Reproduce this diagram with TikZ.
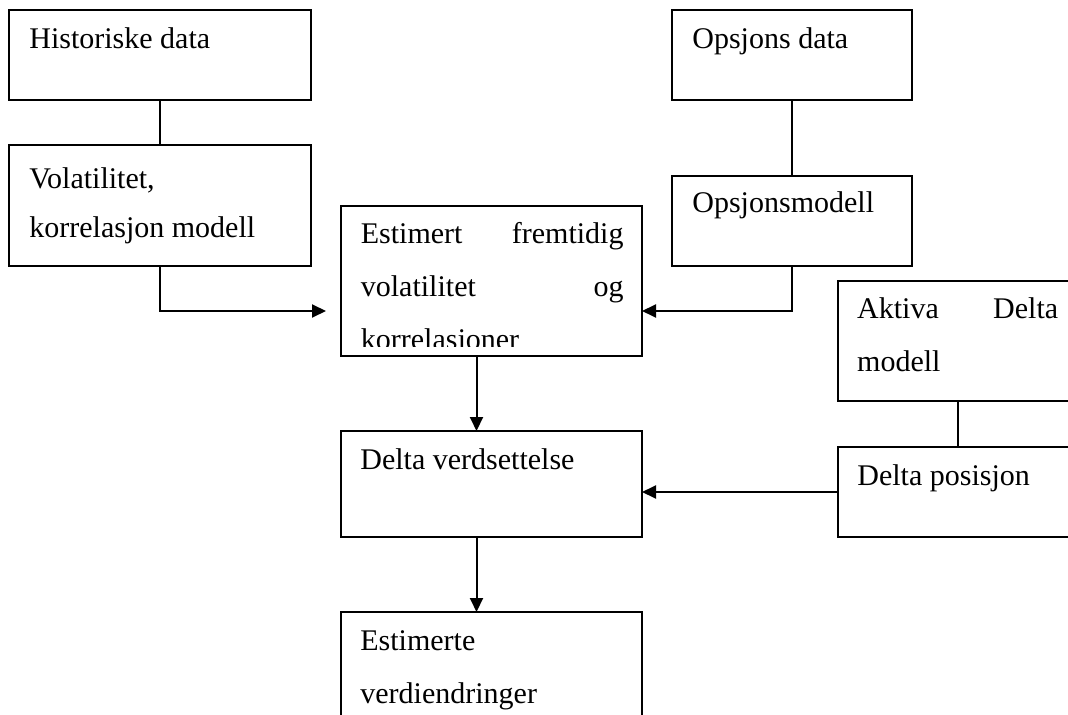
\documentclass[tikz,border=0pt]{standalone}
\usepackage{fontspec}
\setmainfont{Liberation Serif}
\usetikzlibrary{arrows.meta,positioning}

\tikzset{
  blokk/.style={draw, line width=1pt, anchor=north west, inner sep=0pt, outer sep=0pt},
  tekst/.style={anchor=base west, inner sep=0pt, font=\fontsize{15}{26.5}\selectfont},
  lin/.style={line width=1pt},
  pil/.style={line width=1pt, -{Triangle[length=7pt,width=6.5pt]}}
}

\begin{document}
\begin{tikzpicture}[x=0.5pt, y=-0.5pt]
  \useasboundingbox (0,0) rectangle (1068,715);
  \clip (0,0) rectangle (1068,715);
  \node[blokk, minimum width=151pt, minimum height=45pt] (hist) at (9,10) {};
  \node[blokk, minimum width=151pt, minimum height=60.5pt, below=22.5pt of hist] (vol) {};
  \node[blokk, minimum width=150.5pt, minimum height=75pt] (est) at (341,206) {};
  \node[blokk, minimum width=150.5pt, minimum height=53pt, below=37.5pt of est] (dver) {};
  \node[blokk, minimum width=150.5pt, minimum height=75pt, below=37.5pt of dver] (estv) {};
  \node[blokk, minimum width=120pt, minimum height=45pt] (opsd) at (672,10) {};
  \node[blokk, minimum width=120pt, minimum height=45pt, below=38pt of opsd] (opsm) {};
  \node[blokk, minimum width=120pt, minimum height=60pt] (akt) at (838,281) {};
  \node[blokk, minimum width=120pt, minimum height=45pt, below=23pt of akt] (dpos) {};

  \node[tekst] (histT) at ([xshift=10pt,yshift=-19.5pt]hist.north west) {Historiske data};
  \node[tekst] (volT) at ([xshift=10pt,yshift=-21.75pt]vol.north west)
    {\parbox[t]{140pt}{\fontsize{15}{24.5}\selectfont Volatilitet,\\ korrelasjon modell}};
  \begin{scope}
    \clip (est.north west) rectangle ([yshift=4.5pt]est.south east);
    \node[tekst] (estT) at ([xshift=9.75pt,yshift=-18.65pt]est.north west)
      {\parbox[t]{131.3pt}{Estimert\hfill fremtidig\\ volatilitet\hfill og\\ korrelasjoner}};
  \end{scope}
  \node[tekst] (opsdT) at ([xshift=10pt,yshift=-19.5pt]opsd.north west) {Opsjons data};
  \node[tekst] (opsmT) at ([xshift=10pt,yshift=-18.5pt]opsm.north west) {Opsjonsmodell};
  \node[tekst] (aktT) at ([xshift=9.4pt,yshift=-19pt]akt.north west)
    {\parbox[t]{100.5pt}{Aktiva\hfill Delta\\ modell}};
  \node[tekst] (dposT) at ([xshift=9.5pt,yshift=-19pt]dpos.north west) {Delta posisjon};
  \node[tekst] (dverT) at ([xshift=9.5pt,yshift=-19pt]dver.north west) {Delta verdsettelse};
  \node[tekst] (estvT) at ([xshift=9.5pt,yshift=-19pt]estv.north west)
    {\parbox[t]{131pt}{Estimerte\\ verdiendringer}};

  \draw[lin] (hist) -- (vol);
  \draw[lin] (opsd) -- (opsm);
  \draw[lin] (akt) -- (dpos);
  \draw[pil] (vol.south) |- ([xshift=-7.5pt,yshift=-15pt]est.west);
  \draw[pil] (opsm.south) |- ([yshift=-15pt]est.east);
  \draw[pil] ([xshift=-7.5pt]est.south) -- ([xshift=-7.5pt]dver.north);
  \draw[pil] ([xshift=-7.5pt]dver.south) -- ([xshift=-7.5pt]estv.north);
  \draw[pil] (dpos.west) -- (dpos.west -| dver.east);
\end{tikzpicture}
\end{document}
